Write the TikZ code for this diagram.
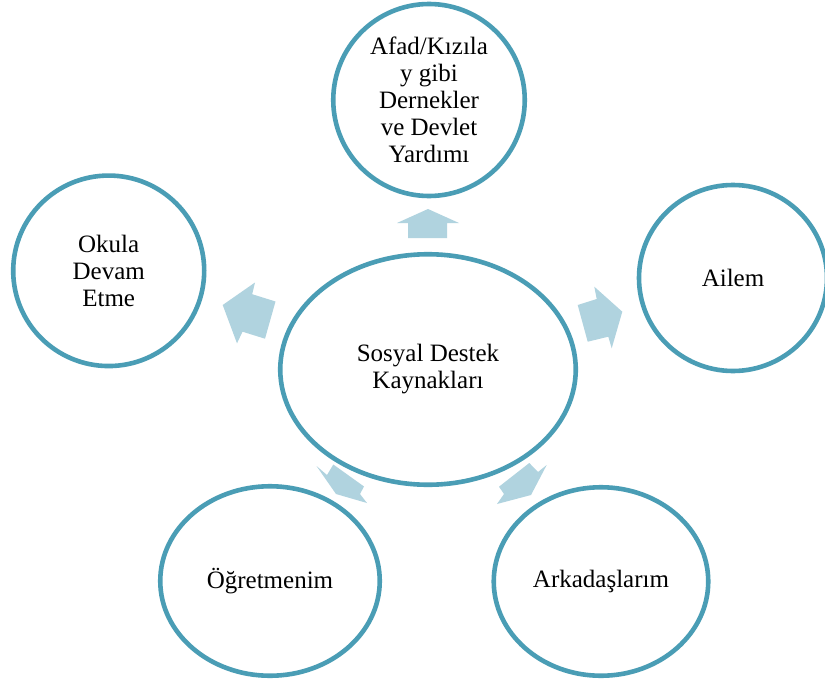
\documentclass[tikz,border=0pt]{standalone}
\usepackage{fontspec}
\setmainfont{Liberation Serif}
\usetikzlibrary{shapes.geometric}
\definecolor{ringc}{HTML}{4A9DB5}
\definecolor{arrowfill}{HTML}{B0D3DF}
\begin{document}
\begin{tikzpicture}[x=1pt,y=-1pt,
  ringnode/.style={ellipse, draw=ringc, line width=4.6pt, fill=white, inner sep=0pt,
    align=center, font=\fontsize{25}{27}\selectfont},
  blockarrow/.style={fill=arrowfill, draw=none}]
\path[use as bounding box, fill=white] (0,0) rectangle (825,688);

% central ellipse
\node[ringnode, minimum width=295.5pt, minimum height=230.5pt] (center) at (428,369.5) {Sosyal Destek\\Kaynakları};

% outer circles
\node[ringnode, minimum width=191.5pt, minimum height=192pt] (top) at (429,100) {Afad/Kızıla\\y gibi\\Dernekler\\ve Devlet\\Yardımı};
\node[ringnode, minimum width=191pt, minimum height=190.5pt] (left) at (108.7,270.8) {Okula\\Devam\\Etme};
\node[ringnode, minimum width=188pt, minimum height=186pt] (right) at (733,278) {Ailem};
\node[ringnode, minimum width=219.5pt, minimum height=189.5pt] (botleft) at (270,581) {Öğretmenim};
\node[ringnode, minimum width=214.5pt, minimum height=188.5pt] (botright) at (601,581.5) {Arkadaşlarım};

% block arrows
\fill[blockarrow] (428,209) -- (459,223) -- (447,223) -- (447,238) -- (408,238) -- (408,223) -- (397,223) -- cycle;
\fill[blockarrow] (577.7,305) -- (596.7,299) -- (594.3,286.7) -- (622.3,311.7) -- (611.7,348.3) -- (608.3,336.7) -- (587.7,341.7) -- cycle;
\fill[blockarrow] (222.7,305) -- (255,282.5) -- (252.2,294.2) -- (275.5,301.5) -- (265,338.7) -- (242.5,331.7) -- (237,343.3) -- cycle;
\fill[blockarrow] (316.5,466) -- (327,475) -- (333.3,464.5) -- (364,486.5) -- (360,494) -- (367,503) -- (336,494) -- cycle;
\fill[blockarrow] (546.7,465) -- (538,472) -- (529.3,463) -- (499,486.7) -- (504,494) -- (497,504) -- (531,495) -- cycle;
\end{tikzpicture}
\end{document}
